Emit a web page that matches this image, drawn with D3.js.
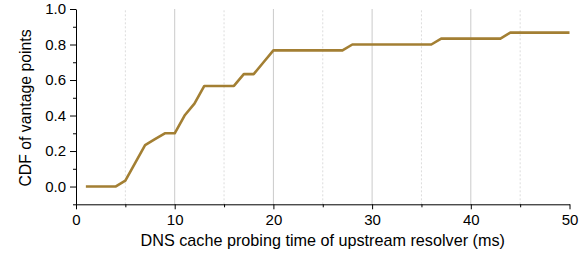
<!DOCTYPE html>
<html>
<head>
<meta charset="utf-8">
<script src="https://cdn.jsdelivr.net/npm/d3@7"></script>
<style>
  body { margin: 0; background: #fff; }
  text { font-family: "Liberation Sans", Arial, sans-serif; }
</style>
</head>
<body>
<div id="chart"></div>
<script>
// probing time (ms) and CDF of vantage points
var probeTime = [1, 2, 3, 4, 5, 6, 7, 8, 9, 10,
  11, 12, 13, 14, 15, 16, 17, 18, 19, 20,
  21, 22, 23, 24, 25, 26, 27, 28, 29, 30,
  31, 32, 33, 34, 35, 36, 37, 38, 39, 40,
  41, 42, 43, 44, 45, 46, 47, 48, 49, 50];
var cdfValues = [0, 0, 0, 0, 0.0333, 0.1333, 0.2333, 0.2667, 0.3, 0.3,
  0.4, 0.4667, 0.5667, 0.5667, 0.5667, 0.5667, 0.6333, 0.6333, 0.7, 0.7667,
  0.7667, 0.7667, 0.7667, 0.7667, 0.7667, 0.7667, 0.7667, 0.8, 0.8, 0.8,
  0.8, 0.8, 0.8, 0.8, 0.8, 0.8, 0.8333, 0.8333, 0.8333, 0.8333,
  0.8333, 0.8333, 0.8333, 0.8667, 0.8667, 0.8667, 0.8667, 0.8667, 0.8667, 0.8667];
var xMajorTicks = [0, 10, 20, 30, 40, 50];
var xMinorTicks = [5, 15, 25, 35, 45];
var yMajorTicks = [0, 0.2, 0.4, 0.6, 0.8, 1.0];
var yMinorTicks = [-0.1, 0.1, 0.3, 0.5, 0.7, 0.9];

var width = 587, height = 254;
var margin = {top: 9, right: 17, bottom: 50, left: 76};

var svg = d3.select("#chart").append("svg")
    .attr("width", width)
    .attr("height", height);

var g = svg.append("g")
    .attr("transform", "translate(" + margin.left + "," + margin.top + ")");

var x = d3.scaleLinear().domain([0, 50]).range([0, 493.5]);
var y = d3.scaleLinear().domain([-0.1, 1.0]).range([195.3, 0]);

// vertical grid
g.selectAll(".grid-major")
    .data(xMajorTicks.filter(function(d) { return d > 0 && d < 50; }))
  .enter().append("line")
    .attr("x1", function(d) { return x(d); })
    .attr("x2", function(d) { return x(d); })
    .attr("y1", y(-0.1)).attr("y2", y(1.0))
    .attr("stroke", "#cacaca").attr("stroke-width", 1);

g.selectAll(".grid-minor")
    .data(xMinorTicks)
  .enter().append("line")
    .attr("x1", function(d) { return x(d); })
    .attr("x2", function(d) { return x(d); })
    .attr("y1", y(-0.1)).attr("y2", y(1.0))
    .attr("stroke", "#dcdcdc").attr("stroke-width", 1)
    .attr("stroke-dasharray", "2,2");

// axes
g.append("g")
    .attr("transform", "translate(0," + y(-0.1) + ")")
    .call(d3.axisBottom(x).tickValues(xMajorTicks).tickSize(5).tickPadding(5.5).tickSizeOuter(0));
var xMinor = g.append("g")
    .attr("transform", "translate(0," + y(-0.1) + ")")
    .call(d3.axisBottom(x).tickValues(xMinorTicks).tickSize(3).tickFormat("").tickSizeOuter(0));
xMinor.select(".domain").remove();

g.append("g")
    .call(d3.axisLeft(y).tickValues(yMajorTicks).tickFormat(d3.format(".1f")).tickSize(6).tickPadding(4).tickSizeOuter(0));
var yMinor = g.append("g")
    .call(d3.axisLeft(y).tickValues(yMinorTicks).tickSize(3).tickFormat("").tickSizeOuter(0));
yMinor.select(".domain").remove();

svg.selectAll(".tick text")
    .attr("font-size", 15)
    .attr("fill", "#000")
    .style("font-family", "'Liberation Sans', Arial, sans-serif");
svg.selectAll(".domain, .tick line").attr("stroke", "#000");

// line
var line = d3.line()
    .x(function(d, i) { return x(probeTime[i]); })
    .y(function(d) { return y(d); });

g.append("path")
    .datum(cdfValues)
    .attr("fill", "none")
    .attr("stroke", "#a37f33")
    .attr("stroke-width", 2.6)
    .attr("stroke-linejoin", "round")
    .attr("d", line);

// titles
svg.append("text")
    .attr("x", margin.left + x(25))
    .attr("y", 246)
    .attr("text-anchor", "middle")
    .attr("font-size", 16.2)
    .text("DNS cache probing time of upstream resolver (ms)");

svg.append("text")
    .attr("transform", "translate(31,108) rotate(-90)")
    .attr("text-anchor", "middle")
    .attr("font-size", 15.8)
    .text("CDF of vantage points");
</script>
</body>
</html>
